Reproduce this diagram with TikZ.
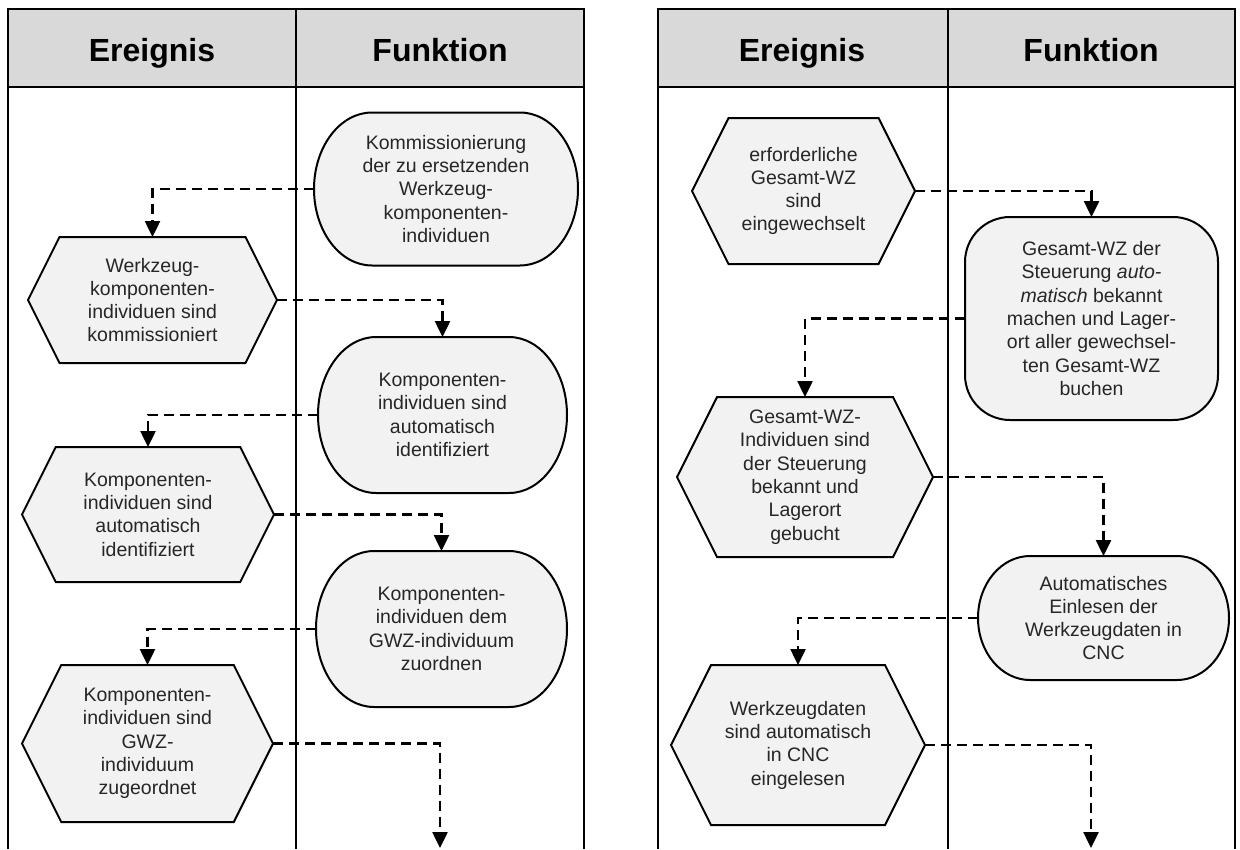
\documentclass[tikz,border=0pt]{standalone}
\usepackage{fontspec}
\setmainfont{Liberation Sans}
\usetikzlibrary{arrows.meta}
\definecolor{hdrgray}{HTML}{D9D9D9}
\definecolor{boxfill}{HTML}{F2F2F2}
\definecolor{txtcol}{HTML}{262626}

% event (hexagon): name, cx, cy, w, h, text
\newcommand{\evnode}[6]{%
  \pgfmathsetmacro{\myHW}{#4/2}%
  \pgfmathsetmacro{\myHH}{#5/2}%
  \pgfmathsetmacro{\myIns}{#5/4}%
  \path[evshape] ({#2-\myHW},{-#3}) -- ({#2-\myHW+\myIns},{-#3+\myHH})
     -- ({#2+\myHW-\myIns},{-#3+\myHH}) -- ({#2+\myHW},{-#3})
     -- ({#2+\myHW-\myIns},{-#3-\myHH}) -- ({#2-\myHW+\myIns},{-#3-\myHH}) -- cycle;
  \node[boxtext, minimum width=#4, minimum height=#5] (#1) at (#2,-#3) {#6};
}
% function (stadium): name, cx, cy, w, h, rx, text
\newcommand{\fnnode}[7]{%
  \pgfmathsetmacro{\myHW}{#4/2}%
  \pgfmathsetmacro{\myHH}{#5/2}%
  \path[fnshape] ({#2-\myHW+#6},{-#3+\myHH}) -- ({#2+\myHW-#6},{-#3+\myHH})
     arc[start angle=90, end angle=-90, x radius=#6, y radius=\myHH]
     -- ({#2-\myHW+#6},{-#3-\myHH})
     arc[start angle=270, end angle=90, x radius=#6, y radius=\myHH] -- cycle;
  \node[boxtext, minimum width=#4, minimum height=#5] (#1) at (#2,-#3) {#7};
}
% function (rounded rectangle): name, cx, cy, w, h, r, text
\newcommand{\fnrect}[7]{%
  \pgfmathsetmacro{\myHW}{#4/2}%
  \pgfmathsetmacro{\myHH}{#5/2}%
  \path[fnshape, rounded corners=#6pt] ({#2-\myHW},{-#3+\myHH}) rectangle ({#2+\myHW},{-#3-\myHH});
  \node[boxtext, minimum width=#4, minimum height=#5] (#1) at (#2,-#3) {#7};
}

\begin{document}
\begin{tikzpicture}[x=1pt,y=1pt,
  frame/.style={line width=2pt, draw=black},
  evshape/.style={draw=black, line width=2pt, fill=boxfill, line join=miter},
  fnshape/.style={draw=black, line width=2pt, fill=boxfill},
  boxtext/.style={inner sep=0pt, outer sep=0pt, align=center, text=txtcol,
                  font=\fontsize{19.5}{23.3}\selectfont},
  hdrtext/.style={font=\fontsize{32}{38}\selectfont\bfseries, text=black, inner sep=0pt, anchor=base},
  conn/.style={line width=2.5pt, dash pattern=on 10pt off 6pt,
               -{Triangle[length=16pt,width=15pt]}},
]
\useasboundingbox (0,0) rectangle (1240,-849);
\fill[white] (0,0) rectangle (1240,-849);

% ---- left panel frame ----
\fill[hdrgray] (8,-9) rectangle (584,-87);
\draw[frame] (8,-849) -- (8,-9) -- (584,-9) -- (584,-849);
\draw[frame] (8,-87) -- (584,-87);
\draw[frame] (296,-9) -- (296,-849);
\node[hdrtext] (h1) at (152,-61) {Ereignis};
\node[hdrtext] (h2) at (440,-61) {Funktion};

% ---- right panel frame ----
\fill[hdrgray] (658,-9) rectangle (1235,-87);
\draw[frame] (658,-849) -- (658,-9) -- (1235,-9) -- (1235,-849);
\draw[frame] (658,-87) -- (1235,-87);
\draw[frame] (948,-9) -- (948,-849);
\node[hdrtext] (h3) at (802,-61) {Ereignis};
\node[hdrtext] (h4) at (1091,-61) {Funktion};

% ---- left panel shapes ----
\fnnode{F1}{446}{189}{264}{153}{58}{Kommissionierung\\der zu ersetzenden\\Werkzeug-\\komponenten-\\individuen}
\evnode{E1}{152.5}{300}{249}{126}{Werkzeug-\\komponenten-\\individuen sind\\kommissioniert}
\fnnode{F2}{442.5}{415}{249}{156}{58}{Komponenten-\\individuen sind\\automatisch\\identifiziert}
\evnode{E2}{148}{514.5}{252}{135}{Komponenten-\\individuen sind\\automatisch\\identifiziert}
\fnnode{F3}{441.5}{629}{251}{156}{58}{Komponenten-\\individuen dem\\GWZ-individuum\\zuordnen}
\evnode{E3}{147.5}{743.5}{251}{157}{Komponenten-\\individuen sind\\GWZ-\\individuum\\zugeordnet}
\coordinate (out1) at (440,-848);

% ---- right panel shapes ----
\evnode{E4}{803.5}{191}{223}{146}{erforderliche\\Gesamt-WZ\\sind\\eingewechselt}
\fnrect{F4}{1091.5}{318.5}{253}{203}{45}{Gesamt-WZ der\\Steuerung \textit{auto-}\\\textit{matisch} bekannt\\machen und Lager-\\ort aller gewechsel-\\ten Gesamt-WZ\\buchen}
\evnode{E5}{805}{477}{256}{160}{Gesamt-WZ-\\Individuen sind\\der Steuerung\\bekannt und\\Lagerort\\gebucht}
\fnnode{F5}{1103.5}{618}{251}{124}{52}{Automatisches\\Einlesen der\\Werkzeugdaten in\\CNC}
\evnode{E6}{798}{745}{254}{160}{Werkzeugdaten\\sind automatisch\\in CNC\\eingelesen}
\coordinate (out2) at (1091,-848);

% ---- connectors ----
\draw[conn] (F1.west) -| (E1.north);
\draw[conn] (E1.east) -| (F2.north);
\draw[conn] (F2.west) -| (E2.north);
\draw[conn] (E2.east) -| (F3.north);
\draw[conn] (F3.west) -| (E3.north);
\draw[conn] (E3.east) -| (out1);

\draw[conn] (E4.east) -| (F4.north);
\draw[conn] (F4.west) -| (E5.north);
\draw[conn] (E5.east) -| (F5.north);
\draw[conn] (F5.west) -| (E6.north);
\draw[conn] (E6.east) -| (out2);
\end{tikzpicture}
\end{document}
